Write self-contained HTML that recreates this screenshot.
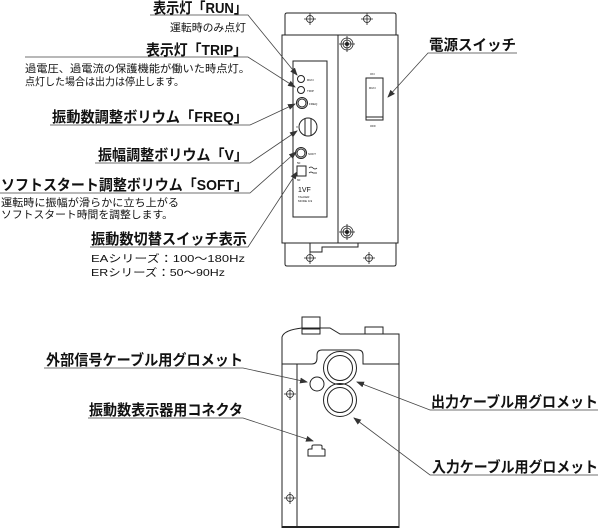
<!DOCTYPE html>
<html><head><meta charset="utf-8"><style>
html,body{margin:0;padding:0;background:#fff;}
svg{display:block;}
text{font-family:"Liberation Sans","Noto Sans CJK JP",sans-serif;fill:#111;}
.h{font-size:15px;font-weight:bold;}
.s{font-size:10.5px;}
.t{font-size:3px;}
</style></head><body>
<svg width="600" height="528" viewBox="0 0 600 528" xmlns="http://www.w3.org/2000/svg">
<defs>
<marker id="a" markerWidth="8" markerHeight="6" refX="7" refY="3" orient="auto" markerUnits="userSpaceOnUse">
<path d="M0,0 L8,3 L0,6 z" fill="#333"/></marker>
<g id="cross"><circle r="3.5" fill="none" stroke="#222" stroke-width="0.8"/><path d="M-6,0H6M0,-6V6" stroke="#222" stroke-width="0.8"/></g>
<g id="screw"><circle r="6" fill="none" stroke="#222" stroke-width="0.8"/><circle r="4" fill="none" stroke="#222" stroke-width="0.8"/><circle r="2" fill="#222"/><path d="M-8,0H8M0,-8V8" stroke="#222" stroke-width="0.8"/></g>
</defs>
<g fill="none" stroke="#222" stroke-width="1">
<path d="M285,35 V15 Q285,13 287,13 H394 Q396,13 396,15 V35"/>
<rect x="282" y="35" width="116" height="208"/>
<line x1="338" y1="35" x2="338" y2="243"/>
<path d="M285,243 V264 Q285,266 287,266 H394 Q396,266 396,264 V243"/>
<path d="M310,243 V252 H322 V247 H358 V243"/>
<rect x="293" y="61" width="34" height="156"/>
<circle cx="301" cy="79" r="3.5"/>
<circle cx="301" cy="90" r="3.5"/>
<circle cx="302" cy="103" r="5.5"/><circle cx="302" cy="103" r="4"/>
<circle cx="308" cy="127" r="9"/><path d="M305,119 V135 M311,119 V135"/>
<circle cx="301" cy="153" r="5.5"/><circle cx="301" cy="153" r="4"/>
<rect x="297" y="166" width="9" height="10"/>
<path d="M309,168 q2,-2 4,0 t4,0 M309,173 q2,-2 4,0 h4" stroke-width="0.7"/>
<rect x="366" y="78" width="17" height="42"/>
<line x1="366" y1="117" x2="383" y2="117"/>
</g>
<use href="#cross" x="310" y="19"/><use href="#cross" x="367" y="19"/>
<use href="#cross" x="310" y="258"/><use href="#cross" x="369" y="258"/>
<use href="#screw" x="347" y="44"/><use href="#screw" x="347" y="232"/>
<text class="t" x="307" y="81">RUN</text><text class="t" x="307" y="92">TRIP</text>
<text class="t" x="309" y="105">FREQ</text><text class="t" x="296" y="128">V</text>
<text class="t" x="308" y="155">SOFT</text><text class="t" x="297" y="164">50</text><text class="t" x="297" y="181">60</text>
<text x="298" y="192" font-size="7">1VF</text>
<text class="t" x="298" y="198">TALKER</text><text class="t" x="298" y="202">MODE 0-9</text>
<text class="t" x="370" y="75">ON</text><text class="t" x="369" y="89">RUN</text><text class="t" x="370" y="127">OFF</text>

<g fill="none" stroke="#444" stroke-width="0.8">
<polyline points="150,15 248,15 297,75" marker-end="url(#a)"/>
<polyline points="25,57 248,57 295,87" marker-end="url(#a)"/>
<polyline points="50,125 250,125 295,104" marker-end="url(#a)"/>
<polyline points="95,163 250,163 297,131" marker-end="url(#a)"/>
<polyline points="0,193 250,193 296,152" marker-end="url(#a)"/>
<polyline points="90,247 248,247 297,172" marker-end="url(#a)"/>
<polyline points="517,53 428,53 388,97" marker-end="url(#a)"/>
</g>
<text class="h" x="153" y="13" textLength="94" lengthAdjust="spacingAndGlyphs">表示灯「RUN」</text>
<text class="s" x="170" y="31" textLength="76" lengthAdjust="spacingAndGlyphs">運転時のみ点灯</text>
<text class="h" x="146" y="55" textLength="101" lengthAdjust="spacingAndGlyphs">表示灯「TRIP」</text>
<text class="s" x="25" y="72" textLength="225" lengthAdjust="spacingAndGlyphs">過電圧、過電流の保護機能が働いた時点灯。</text>
<text class="s" x="25" y="85" textLength="159" lengthAdjust="spacingAndGlyphs">点灯した場合は出力は停止します。</text>
<text class="h" x="52" y="122" textLength="196" lengthAdjust="spacingAndGlyphs">振動数調整ボリウム「FREQ」</text>
<text class="h" x="98" y="160" textLength="150" lengthAdjust="spacingAndGlyphs">振幅調整ボリウム「V」</text>
<text class="h" x="1" y="190" textLength="247" lengthAdjust="spacingAndGlyphs">ソフトスタート調整ボリウム「SOFT」</text>
<text class="s" x="1" y="206" textLength="178" lengthAdjust="spacingAndGlyphs">運転時に振幅が滑らかに立ち上がる</text>
<text class="s" x="1" y="218" textLength="172" lengthAdjust="spacingAndGlyphs">ソフトスタート時間を調整します。</text>
<text class="h" x="91" y="244" textLength="156" lengthAdjust="spacingAndGlyphs">振動数切替スイッチ表示</text>
<text class="s" x="91" y="262" textLength="154" lengthAdjust="spacingAndGlyphs">EAシリーズ：100〜180Hz</text>
<text class="s" x="91" y="276" textLength="134" lengthAdjust="spacingAndGlyphs">ERシリーズ：50〜90Hz</text>
<text class="h" x="429" y="50" textLength="87" lengthAdjust="spacingAndGlyphs">電源スイッチ</text>

<g fill="none" stroke="#222" stroke-width="1">
<path d="M282,528 V337 Q284,330 302,328 H330 L340,334 H399 V528"/>
<rect x="302" y="317" width="18" height="17"/>
<path d="M302,329 H320"/>
<rect x="365" y="327" width="18" height="7"/>
<path d="M282,364 H312 Q317,364 317,358 V355 Q317,350 322,350 H358 Q363,350 363,355 V364 H399"/>
<line x1="297" y1="364" x2="297" y2="528"/>
<circle cx="340" cy="368" r="16.5"/><circle cx="340" cy="368" r="12.5"/>
<circle cx="340" cy="400" r="16.5"/><circle cx="340" cy="400" r="12.5"/>
<circle cx="317" cy="384" r="7"/>
<path d="M308,456 V450 Q308,449 310,449 H312 V446 Q312,445 314,445 H320 Q322,445 322,446 V449 H324 Q325,449 325,450 V456 Z"/>
</g>
<line x1="282" y1="527" x2="399" y2="527" stroke="#222" stroke-width="2"/>
<use href="#cross" x="290" y="394"/><use href="#cross" x="290" y="498"/>

<g fill="none" stroke="#444" stroke-width="0.8">
<polyline points="44,368 243,368 307,382" marker-end="url(#a)"/>
<polyline points="88,418 243,418 313,441" marker-end="url(#a)"/>
<polyline points="598,410 430,410 357,382" marker-end="url(#a)"/>
<polyline points="598,475 430,475 354,418" marker-end="url(#a)"/>
</g>
<text class="h" x="46" y="365" textLength="197" lengthAdjust="spacingAndGlyphs">外部信号ケーブル用グロメット</text>
<text class="h" x="89" y="415" textLength="154" lengthAdjust="spacingAndGlyphs">振動数表示器用コネクタ</text>
<text class="h" x="431" y="407" textLength="167" lengthAdjust="spacingAndGlyphs">出力ケーブル用グロメット</text>
<text class="h" x="432" y="472" textLength="166" lengthAdjust="spacingAndGlyphs">入力ケーブル用グロメット</text>
</svg>
</body></html>
